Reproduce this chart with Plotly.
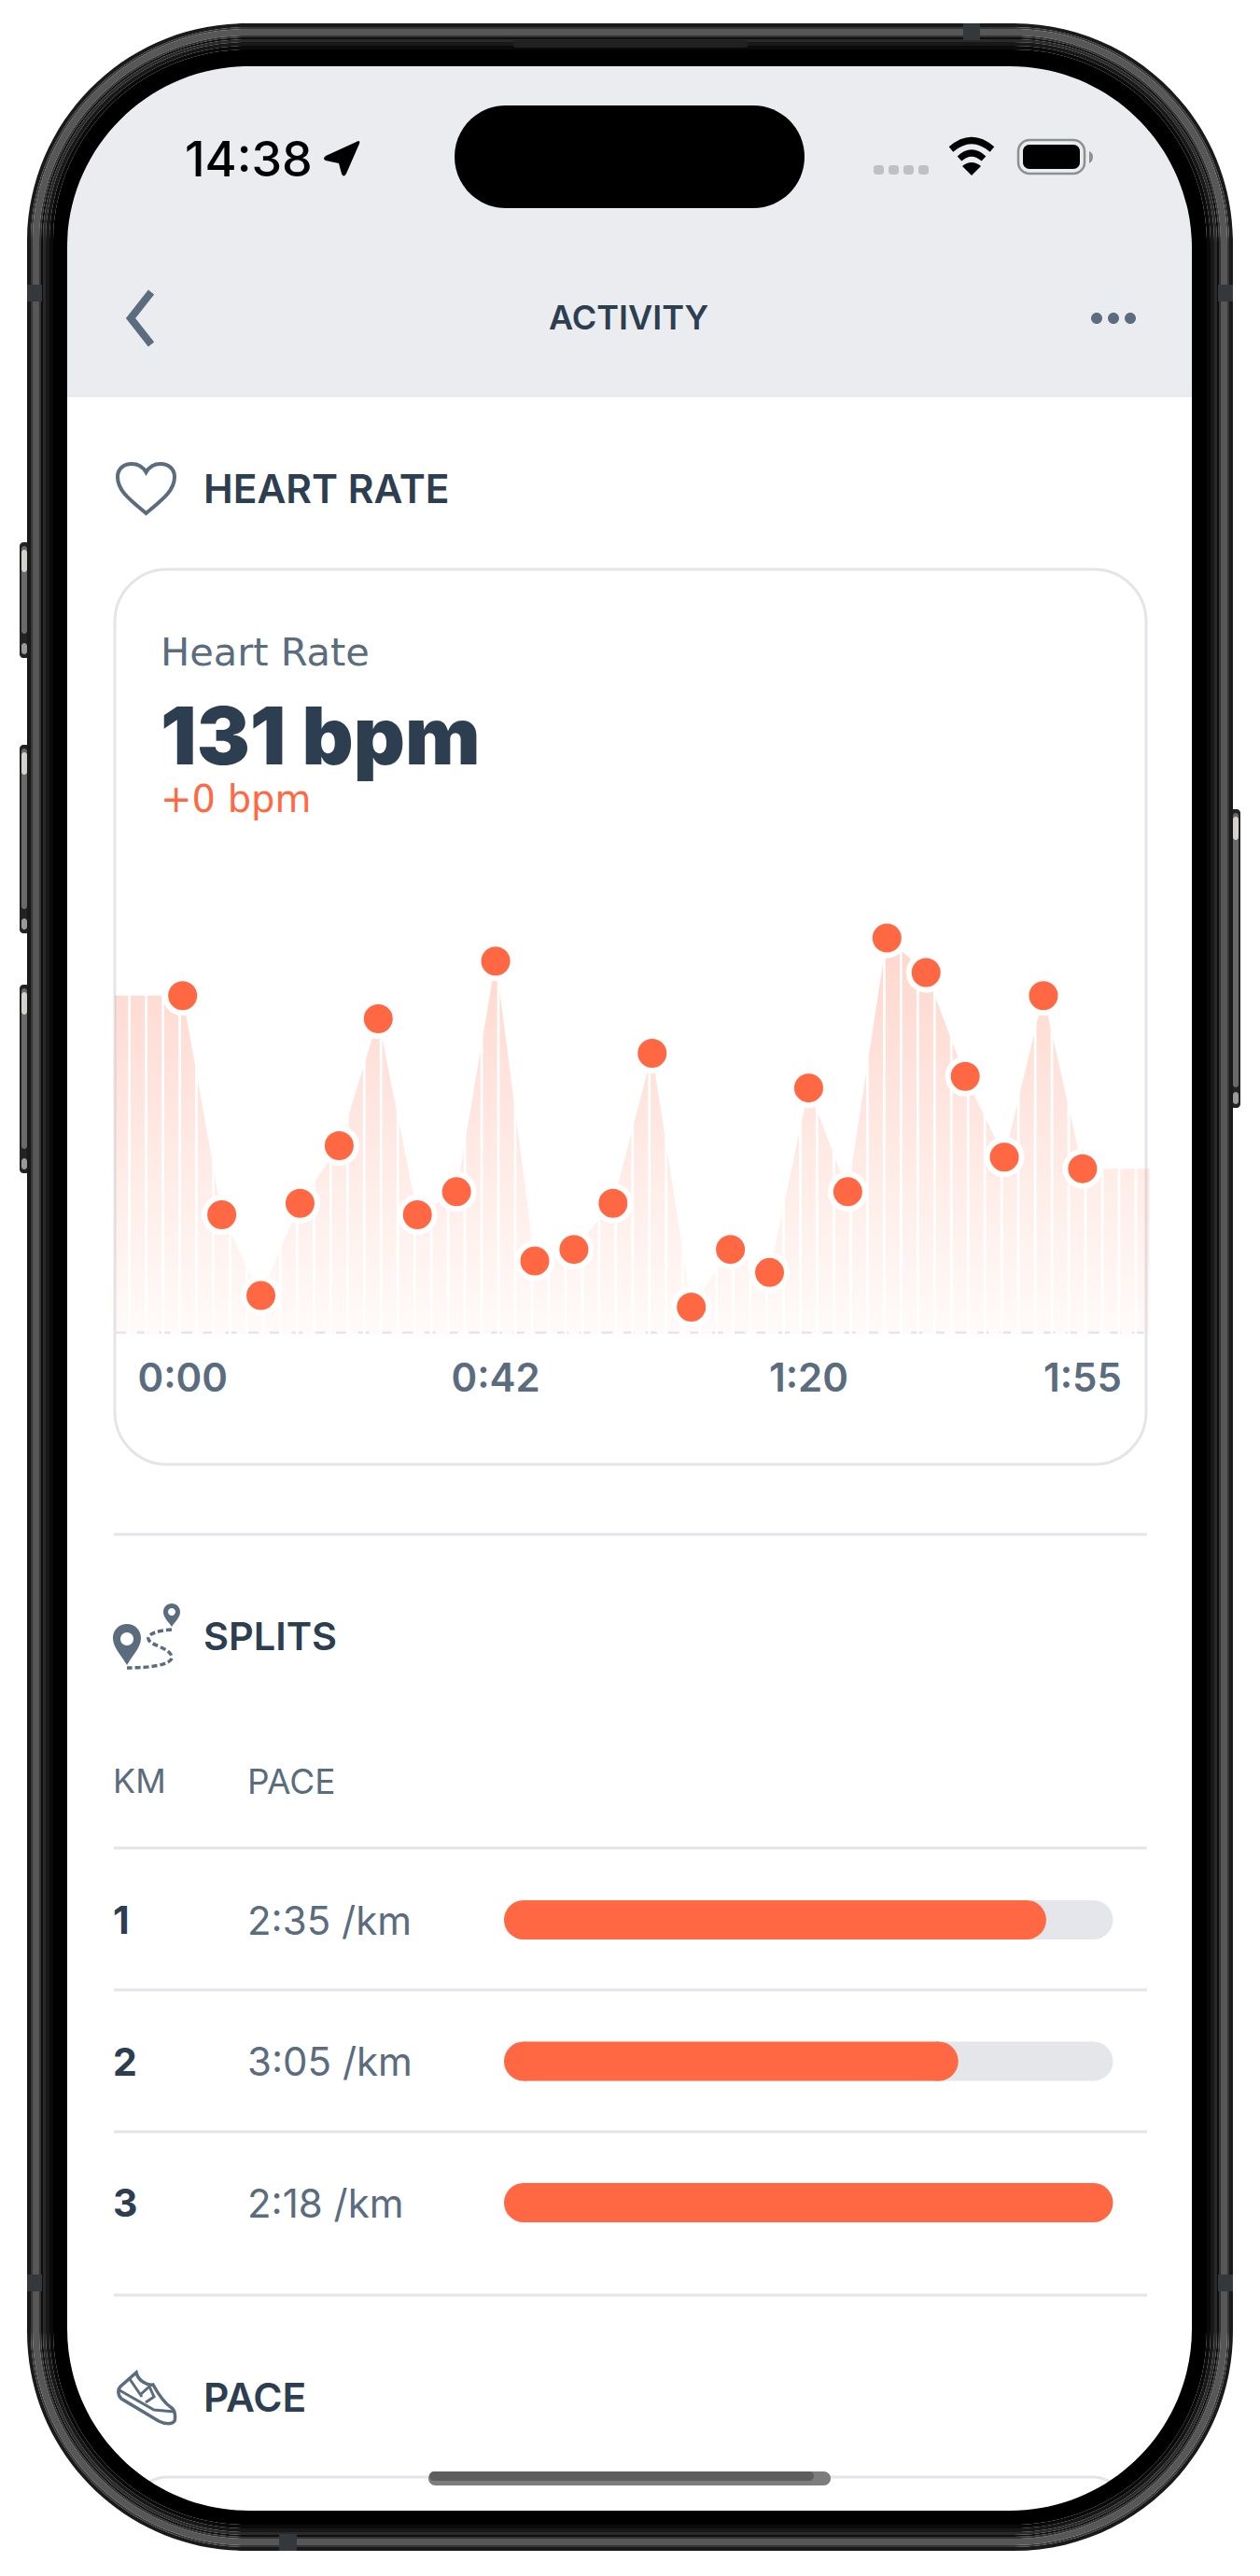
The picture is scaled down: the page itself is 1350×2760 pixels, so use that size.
import plotly.graph_objects as go

# heart rate chart data, one value per sample
sample_idx = list(range(24))
bpm = [146, 127, 120, 128, 133, 144, 127, 129, 149, 123, 124, 128,
       141, 119, 124, 122, 138, 129, 151, 148, 139, 132, 146, 131]
tick_idx = [0, 8, 16, 23]
tick_labels = ["0:00", "0:42", "1:20", "1:55"]

# splits table
km = [1, 2, 3]
pace_sec = [155, 185, 138]
pace_labels = ["2:35 /km", "3:05 /km", "2:18 /km"]

W, H = 1350, 2760
ORANGE = "#ff6843"
DARK = "#2c3e50"
SLATE = "#5a6c7e"
LINE = "#e4e5e9"
FONT = "Inter"
WIDE = "DejaVu Sans"

# x and y limits of the hidden chart axes
x_lo, x_hi = -1.734, 24.72
y_lo, y_hi = 116.69, 153.02
base = 116.8


def path(cmds):
    # pixel path -> paper path
    out, is_x = [], True
    for tok in cmds.split():
        if tok.isalpha():
            out.append(tok)
            continue
        v = float(tok)
        out.append(f"{v / W:.6f}" if is_x else f"{1 - v / H:.6f}")
        is_x = not is_x
    return " ".join(out)


def rrect(x0, y0, x1, y1, r):
    k = r * 0.4477
    return (f"M {x0 + r} {y0} L {x1 - r} {y0} C {x1 - k} {y0} {x1} {y0 + k} {x1} {y0 + r} "
            f"L {x1} {y1 - r} C {x1} {y1 - k} {x1 - k} {y1} {x1 - r} {y1} "
            f"L {x0 + r} {y1} C {x0 + k} {y1} {x0} {y1 - k} {x0} {y1 - r} "
            f"L {x0} {y0 + r} C {x0} {y0 + k} {x0 + k} {y0} {x0 + r} {y0} Z")


shapes = []


def add(cmds, fill=None, stroke=None, width=0, dash=None, layer="below", rule=None):
    s = dict(type="path", path=path(cmds), xref="paper", yref="paper", layer=layer,
             line=dict(color=stroke or "rgba(0,0,0,0)", width=width))
    if dash:
        s["line"]["dash"] = dash
    if fill:
        s["fillcolor"] = fill
    if rule:
        s["fillrule"] = rule
    shapes.append(s)


# page parts under the chart
add(rrect(72, 71, 1277, 2690, 195), fill="white")
add("M 72 424 L 72 266 C 72 158.3 159.3 71 267 71 L 1082 71 C 1189.7 71 1277 158.3 1277 266 L 1277 424 Z",
    fill="#ebecf0")
add("M 72 424.5 L 1277 424.5", stroke="#e4e5e9", width=1.5)
add(rrect(123, 610, 1228, 1569, 56), fill="white", stroke=LINE, width=3)
# top edge of the next card, its ends run in behind the bezel
add("M 150 2666 C 160 2658 168 2654 178 2654 L 1172 2654 C 1182 2654 1190 2658 1200 2666",
    stroke=LINE, width=3)
for y in [1644, 1980, 2132, 2284, 2459]:
    add(f"M 122 {y} L 1229 {y}", stroke=LINE, width=3)

# side buttons
for y0, y1 in [(581, 705), (798, 1000), (1055, 1257)]:
    add(rrect(21, y0, 32, y1, 4), fill="#232323")
    add(rrect(23, y0 + 4, 29, y1 - 26, 3), fill="#6a6a6a")
    add(rrect(23, y0 + 8, 29, y0 + 32, 3), fill="#d4d2cc")
    add(rrect(23, y1 - 16, 29, y1 - 4, 3), fill="#9a9a9a")
add(rrect(1318, 867, 1329, 1187, 4), fill="#232323")
add(rrect(1321, 871, 1327, 1165, 3), fill="#6a6a6a")
add(rrect(1321, 875, 1327, 900, 3), fill="#d4d2cc")
add(rrect(1321, 1170, 1327, 1183, 3), fill="#9a9a9a")

# phone body, rings with the screen left open
FX0, FY0, FX1, FY1, FR = 29, 25, 1321, 2733, 235


def frame(i):
    return rrect(FX0 + i, FY0 + i, FX1 - i, FY1 - i, FR - i)


rings = [(0, 4, "#1a1a1a"), (4, 6, "#363636"), (6, 13, "#575757"), (13, 15, "#333333"),
         (15, 17, "#0e0e0e"), (17, 20, "#2a2a2a"), (20, 24, "#181818"), (24, 28, "#0a0a0a")]
for a, b, c in rings:
    add(frame(a) + " " + frame(b), fill=c, layer="above", rule="evenodd")
add(frame(28) + " " + rrect(72, 71, 1277, 2690, 195), fill="#000000", layer="above", rule="evenodd")
# antenna breaks and speaker slot
for x0, y0, x1, y1 in [(1032, 25, 1050, 43), (299, 2715, 318, 2733), (29, 305, 45, 323),
                       (1305, 305, 1321, 323), (29, 2437, 45, 2455), (1305, 2437, 1321, 2455)]:
    add(f"M {x0} {y0} L {x1} {y0} L {x1} {y1} L {x0} {y1} Z", fill="#34383d", layer="above")
add(rrect(549, 43, 802, 51, 4), fill="#202020", layer="above")

# island and status icons
add(rrect(487, 113, 862, 223, 55), fill="#000000")
add("M 384 151 Q 386 151 385 154 L 371 186 Q 368 191 366 186 L 363 175 L 349 172 Q 345 170 349 167 Z", fill="#000000")
for i in range(4):
    x = 936 + i * 16
    add(rrect(x, 177, x + 11, 187, 3), fill="#bfc0c3")
add("M 1019 160 Q 1041 141 1063 160", stroke="#000000", width=7)
add("M 1028 170 Q 1041 158 1054 170", stroke="#000000", width=7)
add("M 1041 188 L 1031 178 Q 1041 170 1051 178 Z", fill="#000000")
add(rrect(1091, 150, 1162, 186, 12), stroke="#8f8f8f", width=2.5)
add(rrect(1096, 155, 1157, 181, 7), fill="#000000")
add("M 1167 162 Q 1171 164 1171 168 Q 1171 173 1167 175 Z", fill="#8f8f8f")

# nav bar icons
add("M 162 313 L 140 341 L 162 369", stroke=SLATE, width=8)
for cx in [1175, 1193, 1211]:
    add(rrect(cx - 6, 335, cx + 6, 347, 6), fill=SLATE)

# heart
add("M 156.5 550 C 140 536 126 526 126 511 C 126 502 133 497 141 497 C 148 497 153 500 156.5 506 "
    "C 160 500 165 497 172 497 C 180 497 187 502 187 511 C 187 526 173 536 156.5 550 Z",
    stroke=SLATE, width=4)

# route icon
add("M 136 1784 C 129 1772 121 1765 121 1755 C 121 1746 128 1740 136 1740 C 144 1740 151 1746 151 1755 "
    "C 151 1765 143 1772 136 1784 Z", fill=SLATE)
add(rrect(129, 1749, 143, 1763, 7), fill="white")
add("M 184 1743 C 180 1737 175 1733 175 1727 C 175 1722 179 1718 184 1718 C 189 1718 193 1722 193 1727 "
    "C 193 1733 188 1737 184 1743 Z", fill=SLATE)
add(rrect(180, 1723, 188, 1731, 4), fill="white")
add("M 184 1746 C 170 1747 158 1750 159 1756 C 160 1763 182 1765 184 1775 C 185 1784 160 1787 136 1787",
    stroke=SLATE, width=3.5, dash="6px,3px")

# shoe
add("M 146 2542 C 148 2551 158 2556 164 2555 C 170 2566 178 2576 184 2580 C 188 2583 188 2590 187 2594 "
    "C 184 2598 176 2597 170 2594 L 130 2570 C 126 2566 126 2560 129 2557 Z",
    stroke=SLATE, width=3.5)
add("M 128 2561 L 165 2582 L 187 2584", stroke=SLATE, width=3)
add("M 139 2549 L 152 2568 M 150 2566 L 160 2557 L 165 2568 L 156 2574", stroke=SLATE, width=3)

# home bar, darker along the top
add(rrect(459, 2648, 890, 2663, 7.5), fill="#7d7d7d")
add(rrect(460, 2648, 872, 2658, 5), fill="#5e5e5e")


def text(x, y, s, size, color, weight=400, anchor="left", yref="paper", family=FONT):
    return dict(x=x / W, y=(1 - y / H) if yref == "paper" else y, xref="paper", yref=yref, text=s,
                showarrow=False, xanchor=anchor, yanchor="middle", borderpad=0,
                font=dict(family=family, size=size, color=color, weight=weight))


annotations = [
    text(197, 170, "14:38", 52, "#000000", 500),
    text(673.5, 340, "ACTIVITY", 36, DARK, 600, "center"),
    text(217, 523, "HEART RATE", 42.5, DARK, 600),
    text(171, 698, "Heart Rate", 41.5, SLATE, 400, family=WIDE),
    text(171, 788, "131 bpm", 85.5, DARK, 900),
    text(171, 856, "+0 bpm", 40, ORANGE, 400, family=WIDE),
    text(217, 1753, "SPLITS", 41.5, DARK, 600),
    text(120, 1908, "KM", 36, SLATE, 400),
    text(264, 1908, "PACE", 37, SLATE, 400),
    text(217, 2568, "PACE", 42.5, DARK, 600),
]
for k, lab in zip(km, pace_labels):
    annotations.append(text(120, k, str(k), 41, DARK, 700, yref="y2"))
    annotations.append(text(264, k, lab, 42, SLATE, 400, yref="y2"))

fig = go.Figure()

# area with the flat run in at both ends
fig.add_trace(go.Scatter(
    x=[x_lo] + sample_idx + [x_hi], y=[bpm[0]] + bpm + [bpm[-1]],
    mode="lines", line=dict(width=0), fill="tozeroy",
    fillgradient=dict(type="vertical", start=151, stop=base,
                      colorscale=[[0, "rgba(255,104,67,0.27)"], [1, "rgba(255,104,67,0.03)"]]),
    hoverinfo="skip", showlegend=False, xaxis="x", yaxis="y"))
fig.add_trace(go.Scatter(
    x=[x_lo, x_hi], y=[base, base], mode="lines",
    line=dict(color="#e6e6ea", width=2.5, dash="12px,11.7px"),
    hoverinfo="skip", showlegend=False))
# white slits that cut the area into bars
slit_x, slit_y = [], []
for i in range(61):
    slit_x += [-1.361 + i * 0.4287] * 2 + [None]
    slit_y += [y_lo, y_hi, None]
fig.add_trace(go.Scatter(x=slit_x, y=slit_y, mode="lines", line=dict(color="white", width=2.7),
                         hoverinfo="skip", showlegend=False))
fig.add_trace(go.Scatter(
    x=sample_idx, y=bpm, mode="markers", cliponaxis=False,
    marker=dict(size=37, color=ORANGE, line=dict(color="white", width=6)),
    showlegend=False, name="Heart rate"))

# splits bars, fastest km fills the track
# thick line with a round marker at each end, so both ends of the bar are round
best = min(pace_sec)
fractions = [best / p for p in pace_sec]
cap = 21 / 652.5
for vals, color in [([1] * len(km), "#e5e6ea"), (fractions, ORANGE)]:
    xs, ys = [], []
    for k, v in zip(km, vals):
        xs += [cap, v - cap, None]
        ys += [k, k, None]
    fig.add_trace(go.Scatter(x=xs, y=ys, mode="lines+markers", line=dict(color=color, width=42),
                             marker=dict(color=color, size=42), cliponaxis=False,
                             hoverinfo="skip", showlegend=False, xaxis="x2", yaxis="y2"))

fig.update_layout(
    width=W, height=H, margin=dict(l=0, r=0, t=0, b=0), autosize=False,
    paper_bgcolor="white", plot_bgcolor="rgba(0,0,0,0)",
    font=dict(family=FONT),
    shapes=shapes, annotations=annotations,
    xaxis=dict(domain=[123 / W, 1232 / W], range=[x_lo, x_hi], showgrid=False, zeroline=False,
               showline=False, tickvals=tick_idx, ticktext=tick_labels, ticks="",
               ticklabelstandoff=19, anchor="y",
               tickfont=dict(family=FONT, size=42, color=SLATE, weight=600)),
    yaxis=dict(domain=[1 - 1429 / H, 1 - 980 / H], range=[y_lo, y_hi], visible=False, anchor="x"),
    xaxis2=dict(domain=[540 / W, 1192.5 / W], range=[0, 1], visible=False, anchor="y2"),
    yaxis2=dict(domain=[1 - 2435.75 / H, 1 - 1981.25 / H], range=[3.5, 0.5], visible=False, anchor="x2"),
)

fig.write_html("out.html", config=dict(displayModeBar=False),
               post_script="document.body.style.margin='0';")
